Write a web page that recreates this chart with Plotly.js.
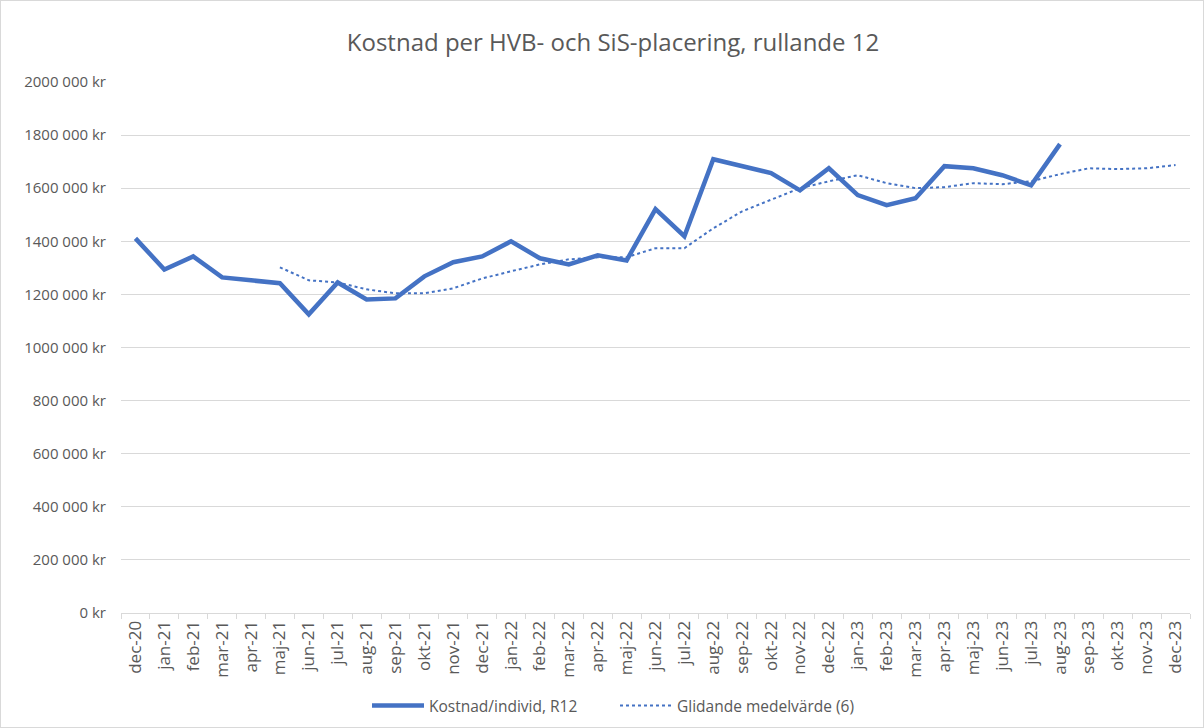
<!DOCTYPE html>
<html>
<head>
<meta charset="utf-8">
<script src="https://cdn.plot.ly/plotly-3.0.1.min.js"></script>
<style>
html,body{margin:0;padding:0;background:#fff;}
#chart{position:absolute;left:0;top:0;width:1202px;height:726px;border:1px solid #d9d9d9;}
</style>
</head>
<body>
<div id="chart"></div>
<script>
const months = ["dec-20","jan-21","feb-21","mar-21","apr-21","maj-21","jun-21","jul-21","aug-21","sep-21","okt-21","nov-21","dec-21","jan-22","feb-22","mar-22","apr-22","maj-22","jun-22","jul-22","aug-22","sep-22","okt-22","nov-22","dec-22","jan-23","feb-23","mar-23","apr-23","maj-23","jun-23","jul-23","aug-23","sep-23","okt-23","nov-23","dec-23"];

const costMonths = months.slice(0, 33);
const costValues = [1411000,1294000,1343000,1264000,1253000,1242000,1125000,1245000,1181000,1185000,1268000,1321000,1343000,1400000,1336000,1313000,1347000,1328000,1521000,1419000,1709000,1683000,1657000,1592000,1675000,1574000,1536000,1562000,1683000,1675000,1649000,1611000,1766000];

const maMonths = months.slice(5);
const maValues = [1302000,1253000,1245000,1219000,1204000,1204000,1223000,1260000,1287000,1313000,1332000,1340000,1340000,1374000,1374000,1449000,1513000,1558000,1600000,1626000,1649000,1619000,1600000,1604000,1619000,1615000,1626000,1653000,1675000,1672000,1675000,1687000];

const yTickVals = [0,200000,400000,600000,800000,1000000,1200000,1400000,1600000,1800000,2000000];
const yTickText = ["0 kr","200 000 kr","400 000 kr","600 000 kr","800 000 kr","1000 000 kr","1200 000 kr","1400 000 kr","1600 000 kr","1800 000 kr","2000 000 kr"];

const font = "Open Sans, Noto Sans, sans-serif";
const grey = "#595959";

const traces = [
  {x: costMonths, y: costValues, type: "scatter", mode: "lines", name: "Kostnad/individ, R12",
   line: {color: "#4472C4", width: 4.5}},
  {x: maMonths, y: maValues, type: "scatter", mode: "lines", name: "Glidande medelvärde (6)",
   line: {color: "#4472C4", width: 2, dash: "dot"}}
];

const layout = {
  width: 1202, height: 726,
  margin: {l: 120, r: 13, t: 81, b: 114},
  paper_bgcolor: "#fff", plot_bgcolor: "#fff",
  font: {family: font, color: grey, size: 15},
  title: {text: "Kostnad per HVB- och SiS-placering, rullande 12", x: 612/1202, xanchor: "center",
          yref: "container", y: 1 - 42/726, yanchor: "middle",
          font: {family: font, size: 24, color: grey}},
  showlegend: true,
  legend: {orientation: "h", xref: "container", x: 614/1202, xanchor: "center", yref: "container", y: 1 - 705/726, yanchor: "middle",
           itemwidth: 52, entrywidth: 181, entrywidthmode: "pixels",
           font: {family: font, size: 15.5, color: grey}},
  xaxis: {type: "category", categoryorder: "array", categoryarray: months,
          tickvals: months, ticktext: months, tickangle: -90, automargin: false,
          tickson: "boundaries", ticks: "outside", ticklen: 5, tickcolor: "#d9d9d9",
          showline: true, linecolor: "#d9d9d9", linewidth: 1, showgrid: false,
          tickfont: {family: font, size: 17, color: grey}, range: [-0.5, 36.5], fixedrange: true},
  yaxis: {range: [0, 2000000], tickvals: yTickVals, ticktext: yTickText, automargin: false,
          showgrid: true, gridcolor: "#d9d9d9", gridwidth: 1, zeroline: false, showline: false,
          ticks: "", ticklabelstandoff: 14, tickfont: {family: font, size: 15, color: grey}, fixedrange: true}
};

Plotly.newPlot("chart", traces, layout, {displayModeBar: false, staticPlot: true});
</script>
</body>
</html>
